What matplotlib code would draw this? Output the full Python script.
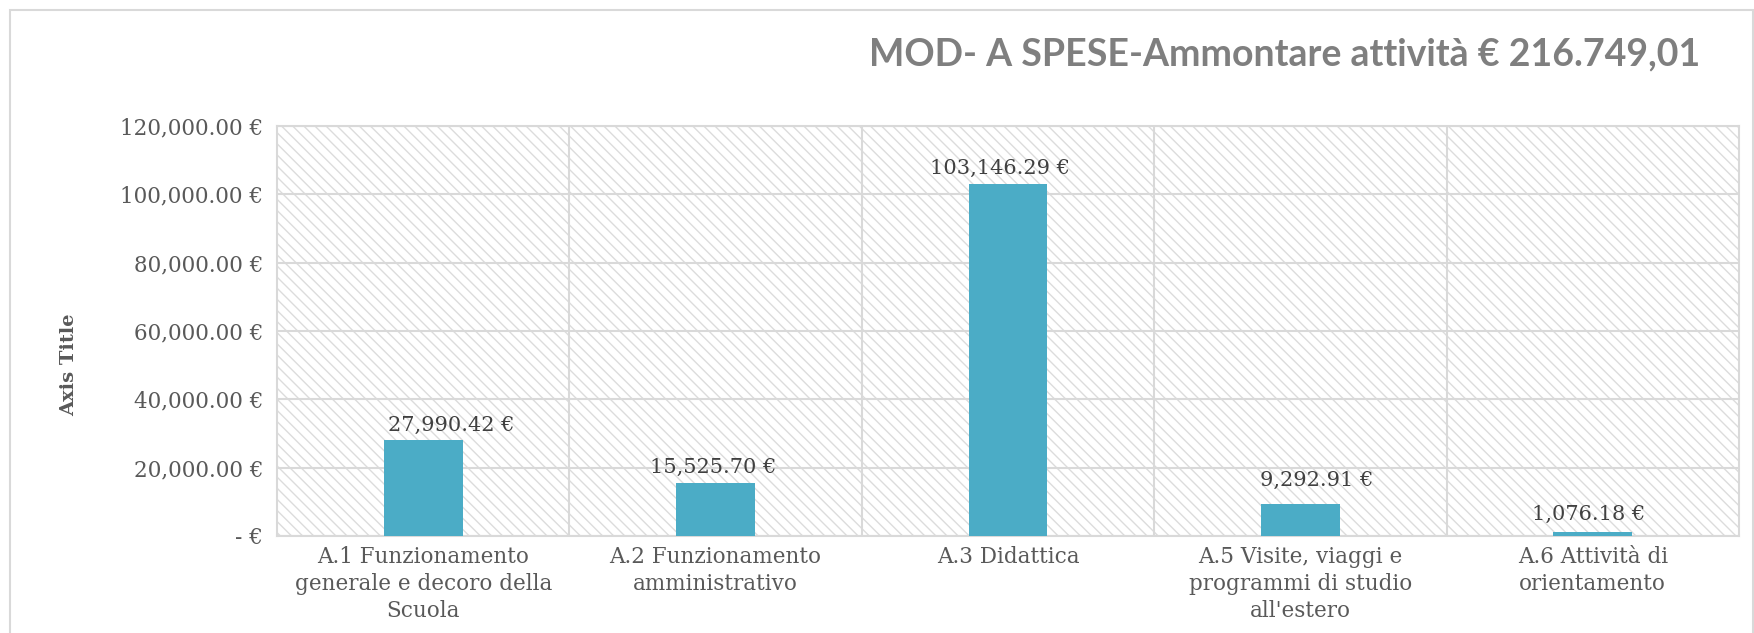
import matplotlib.pyplot as plt
from matplotlib.patches import Rectangle
from matplotlib.ticker import FuncFormatter

# dati
categorie = [
    "A.1 Funzionamento\ngenerale e decoro della\nScuola",
    "A.2 Funzionamento\namministrativo",
    "A.3 Didattica",
    "A.5 Visite, viaggi e\nprogrammi di studio\nall'estero",
    "A.6 Attività di\norientamento",
]
importi = [27990.42, 15525.70, 103146.29, 9292.91, 1076.18]
y_ticks = [0, 20000, 40000, 60000, 80000, 100000, 120000]
titolo = "MOD- A SPESE-Ammontare attività € 216.749,01"

W, H = 1754, 633
fig = plt.figure(figsize=(W / 100, H / 100), dpi=100)

# cornice del grafico
fig.patches.append(Rectangle((10 / W, -0.05), (W - 11) / W, 1 - 10 / H + 0.05,
                             transform=fig.transFigure, fill=False,
                             edgecolor='#d9d9d9', lw=1.5))

left, right, top, bottom = 277, 1739, 126, 536
ax = fig.add_axes([left / W, 1 - bottom / H, (right - left) / W, (bottom - top) / H])

# sfondo tratteggiato
ax.add_patch(Rectangle((0, 0), 1, 1, transform=ax.transAxes, hatch='\\\\\\',
                       fill=False, edgecolor='#dcdcdc', lw=0, zorder=0))
plt.rcParams['hatch.linewidth'] = 0.8

x = range(len(categorie))
bars = ax.bar(x, importi, width=0.27, color='#4bacc6', zorder=3)

ax.set_xlim(-0.5, len(categorie) - 0.5)
ax.set_ylim(0, 120000)
ax.set_yticks(y_ticks)
ax.yaxis.set_major_formatter(FuncFormatter(
    lambda v, p: "- €" if v == 0 else f"{v:,.2f} €"))

ax.set_xticks(list(x))
ax.set_xticklabels(categorie, fontsize=15.5, color='#595959', family='DejaVu Serif',
                   linespacing=1.3)
ax.set_xticks([i + 0.5 for i in range(len(categorie) - 1)], minor=True)
for lab in ax.get_yticklabels():
    lab.set_fontsize(15.5)
    lab.set_color('#595959')
    lab.set_family('DejaVu Serif')

ax.tick_params(axis='both', which='both', length=0)
ax.tick_params(axis='y', pad=10)
ax.tick_params(axis='x', pad=7)
ax.grid(axis='y', which='major', color='#d9d9d9', lw=1.5, zorder=1)
ax.grid(axis='x', which='minor', color='#d9d9d9', lw=1.5, zorder=1)
for s in ax.spines.values():
    s.set_color('#d9d9d9')
    s.set_linewidth(1.5)

# etichette spostate a mano come nell'originale
spost = [(20, 4), (-2, 4), (-6, 4), (12, 10), (-3, 6)]
for b, v, (dx, dy) in zip(bars, importi, spost):
    ax.annotate(f"{v:,.2f} €", (b.get_x() + b.get_width() / 2, v),
                xytext=(dx, dy), textcoords='offset points', ha='center', va='bottom',
                fontsize=15, color='#404040', family='DejaVu Serif', zorder=4)

ax.set_ylabel("Axis Title", fontsize=14, fontweight='bold', color='#595959',
              family='DejaVu Serif')
ax.yaxis.set_label_coords(-0.136, 0.418)

fig.text(1700 / W, 1 - 54 / H, titolo, ha='right', va='center', fontsize=27,
         fontweight='bold', color='#7f7f7f', family='Lato')

fig.savefig('out.png', dpi=100)
